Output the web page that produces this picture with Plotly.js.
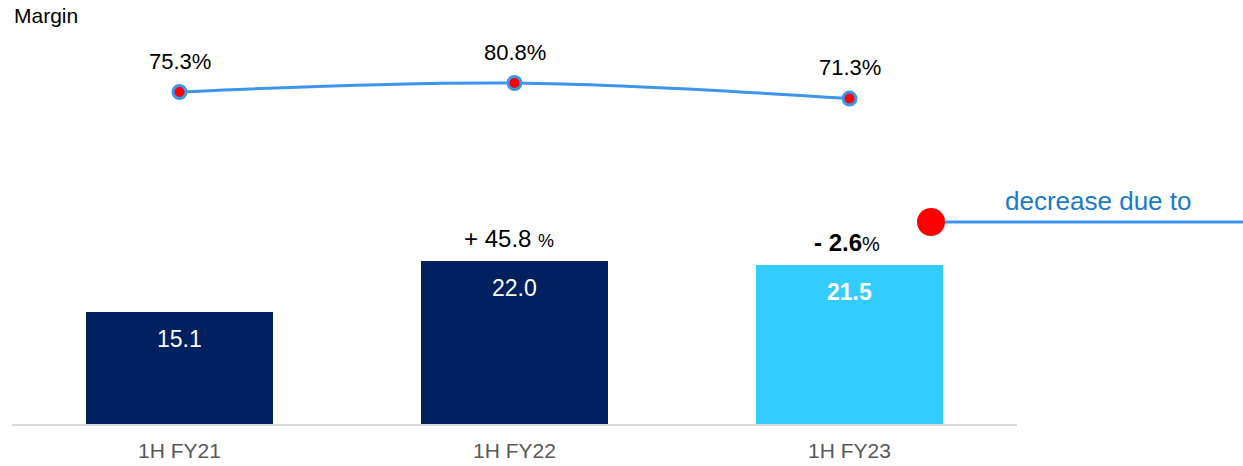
<!DOCTYPE html>
<html>
<head>
<meta charset="utf-8">
<script src="https://cdn.plot.ly/plotly-3.0.1.min.js"></script>
<style>
  html, body { margin: 0; padding: 0; background: #ffffff; }
  #chart { width: 1243px; height: 466px; }
</style>
</head>
<body>
<div id="chart"></div>
<script>
// chart data
var categories = ['1H FY21', '1H FY22', '1H FY23'];
var revenue = [15.1, 22.0, 21.5];
var margins = [75.3, 80.8, 71.3];
var growthLabels = ['', '+ 45.8 <span style="font-size:18px">%</span>', '<b>- 2.6</b><span style="font-size:20px">%</span>'];
var barColours = ['#00205f', '#00205f', '#33ccff'];
var boldValue = [false, false, true];

// plot area in pixels, used to turn pixel spots into paper coords
var L = 12, W = 1005, H = 424;
function paperX(px) { return (px - L) / W; }
function paperY(py) { return (H - py) / H; }

var FONT = 'Liberation Sans, Arial, sans-serif';
var LINE_BLUE = '#3d95ec';

// bars
var barTrace = {
  type: 'bar',
  x: categories,
  y: revenue,
  width: 0.56,
  marker: { color: barColours },
  hoverinfo: 'skip'
};

// margin line
var lineTrace = {
  type: 'scatter',
  mode: 'lines+markers',
  x: categories,
  y: margins,
  yaxis: 'y2',
  line: { color: LINE_BLUE, width: 3, shape: 'spline' },
  marker: { color: '#ff0000', size: 13, line: { color: LINE_BLUE, width: 3 } },
  hoverinfo: 'skip'
};

var annotations = [];

// value labels inside bars
for (var i = 0; i < categories.length; i++) {
  annotations.push({
    x: categories[i], y: revenue[i], xref: 'x', yref: 'y',
    text: boldValue[i] ? '<b>' + revenue[i].toFixed(1) + '</b>' : revenue[i].toFixed(1),
    showarrow: false, yanchor: 'middle', yshift: -27,
    font: { family: FONT, size: 23, color: '#ffffff' }
  });
  // growth labels above bars
  if (growthLabels[i]) {
    annotations.push({
      x: categories[i], y: revenue[i], xref: 'x', yref: 'y',
      text: growthLabels[i],
      showarrow: false, yanchor: 'middle', yshift: 22, xshift: i === 1 ? -6 : -3,
      font: { family: FONT, size: 24, color: '#000000' }
    });
  }
  // margin labels above points
  annotations.push({
    x: categories[i], y: margins[i], xref: 'x', yref: 'y2',
    text: margins[i].toFixed(1) + '%',
    showarrow: false, yanchor: 'middle', yshift: 31,
    font: { family: FONT, size: 22, color: '#000000' }
  });
}

// "Margin" header
annotations.push({
  x: 0, y: paperY(16), xref: 'paper', yref: 'paper',
  text: 'Margin', showarrow: false, xanchor: 'left', yanchor: 'middle',
  font: { family: FONT, size: 21, color: '#000000' }
});

// callout text
annotations.push({
  x: paperX(1098), y: paperY(201), xref: 'paper', yref: 'paper',
  text: 'decrease due to', showarrow: false, xanchor: 'center', yanchor: 'middle',
  font: { family: FONT, size: 26, color: '#1a7acb' }
});

var shapes = [
  // callout line
  {
    type: 'line', xref: 'paper', yref: 'paper',
    x0: paperX(945), x1: paperX(1243), y0: paperY(222), y1: paperY(222),
    line: { color: LINE_BLUE, width: 3 }
  },
  // red dot
  {
    type: 'circle', xref: 'paper', yref: 'paper',
    x0: paperX(917), x1: paperX(945), y0: paperY(236), y1: paperY(208),
    fillcolor: '#ff0000', line: { width: 0 }
  }
];

var layout = {
  width: 1243,
  height: 466,
  margin: { l: L, r: 1243 - L - W, t: 0, b: 466 - H },
  paper_bgcolor: '#ffffff',
  plot_bgcolor: '#ffffff',
  showlegend: false,
  bargap: 0,
  xaxis: {
    range: [-0.5, 2.5],
    showline: true, linecolor: '#d9d9d9', linewidth: 2,
    ticks: '', showgrid: false, zeroline: false,
    ticklabelstandoff: 7,
    tickfont: { family: FONT, size: 21, color: '#595959' }
  },
  yaxis: {
    range: [0, 57.2],
    showgrid: false, zeroline: false, showticklabels: false, showline: false
  },
  yaxis2: {
    overlaying: 'y',
    range: [-127.1, 131.4],
    visible: false, showgrid: false, zeroline: false
  },
  annotations: annotations,
  shapes: shapes
};

Plotly.newPlot('chart', [barTrace, lineTrace], layout, { staticPlot: true });
</script>
</body>
</html>
